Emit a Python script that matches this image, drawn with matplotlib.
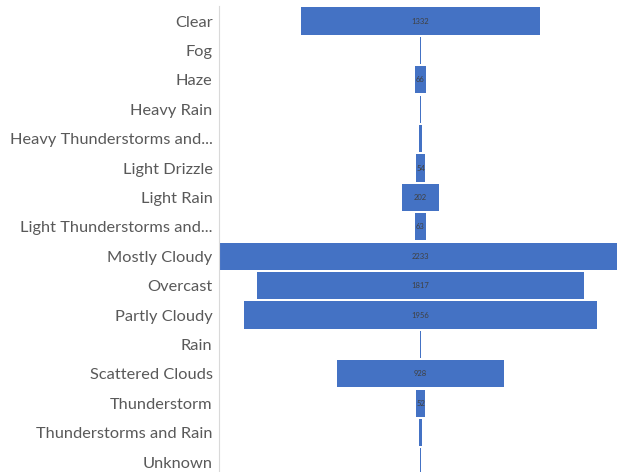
import matplotlib
matplotlib.use("Agg")
import matplotlib.pyplot as plt

categories = ["Clear", "Fog", "Haze", "Heavy Rain", "Heavy Thunderstorms and...",
              "Light Drizzle", "Light Rain", "Light Thunderstorms and...",
              "Mostly Cloudy", "Overcast", "Partly Cloudy", "Rain",
              "Scattered Clouds", "Thunderstorm", "Thunderstorms and Rain", "Unknown"]
counts = [1332, 5, 66, 10, 17, 54, 202, 63, 2233, 1817, 1956, 10, 928, 52, 20, 4]
shown_labels = [True, False, True, False, False, True, True, True,
                True, True, True, False, True, True, False, False]

plt.rcParams['font.family'] = ['Lato', 'DejaVu Sans']

fig = plt.figure(figsize=(6.17, 4.72), dpi=100)
W, H = 617, 472
half = max(counts) / 2
left_px, right_px = 219.5, 219.5 + 402
top_px, row = 6.3, 29.4
bottom_px = top_px + row * len(categories)
ax = fig.add_axes([left_px / W, 1 - bottom_px / H, (right_px - left_px) / W, (bottom_px - top_px) / H])

y = list(range(len(categories)))
lefts = [-c / 2 for c in counts]
ax.barh(y, counts, left=lefts, height=0.92, color="#4472C4", linewidth=0)
for yi, c, s in zip(y, counts, shown_labels):
    if s:
        ax.text(0, yi, str(c), ha="center", va="center", fontsize=5.5, color="#404040")

ax.set_xlim(-half, half)
ax.set_ylim(len(categories) - 0.5, -0.5)
ax.set_yticks(y)
ax.set_yticklabels(categories, fontsize=11.8, color="#595959")
ax.tick_params(axis="y", length=0, pad=5)
ax.set_xticks([])
for side in ["top", "right", "bottom"]:
    ax.spines[side].set_visible(False)
ax.spines["left"].set_color("#D9D9D9")
ax.spines["left"].set_linewidth(0.8)

fig.savefig("out.png", dpi=100)
